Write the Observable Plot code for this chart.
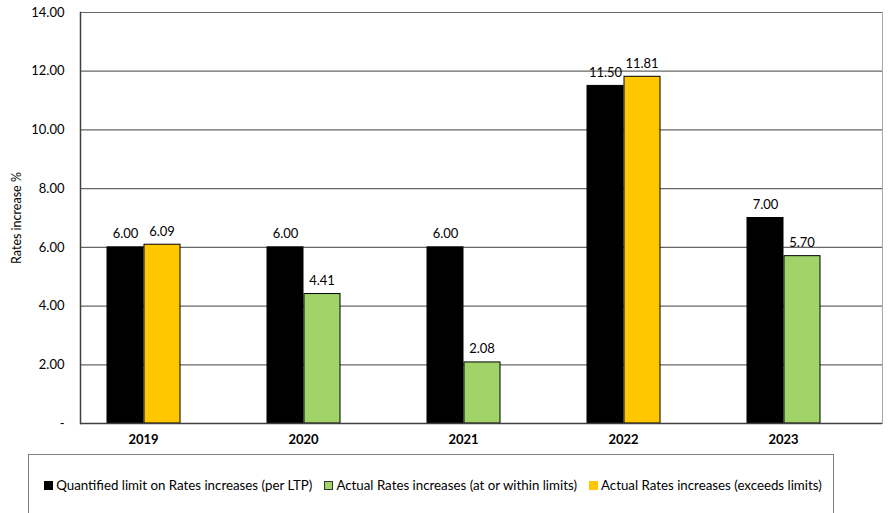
<!DOCTYPE html>
<html>
<head>
<meta charset="utf-8">
<script src="https://cdn.jsdelivr.net/npm/d3@7"></script>
<script src="https://cdn.jsdelivr.net/npm/@observablehq/plot@0.6"></script>
<style>
  body { margin: 0; background: #fff; font-family: Lato, "Noto Sans", sans-serif; }
  #chart { position: relative; width: 888px; height: 513px; overflow: hidden; }
  #legend {
    position: absolute; left: 28px; top: 454px; width: 806px; height: 80px;
    border: 1px solid #808080; box-sizing: border-box;
    display: flex; justify-content: center; align-items: flex-start; gap: 12px;
    padding-top: 22px; padding-left: 4px; font-size: 13.3px; color: #000;
  }
  .item { display: flex; align-items: center; gap: 3px; white-space: nowrap; }
  .sw { width: 9px; height: 9px; box-sizing: border-box; }
</style>
</head>
<body>
<div id="chart"></div>
<script>
// Rates increases by year: the LTP limit and the actual increase
const years = ["2019", "2020", "2021", "2022", "2023"];
const limitValues = [6.00, 6.00, 6.00, 11.50, 7.00];
const actualValues = [6.09, 4.41, 2.08, 11.81, 5.70];
const yTicks = [0, 2, 4, 6, 8, 10, 12, 14];

const seriesNames = [
  "Quantified limit on Rates increases (per LTP)",
  "Actual Rates increases (at or within limits)",
  "Actual Rates increases (exceeds limits)"
];
const seriesColors = ["#000000", "#a0d468", "#ffc700"];

const rows = years.map((year, i) => ({
  year,
  limit: limitValues[i],
  actual: actualValues[i],
  exceeds: actualValues[i] > limitValues[i]
}));

const font = "Lato, 'Noto Sans', sans-serif";

const plot = Plot.plot({
  width: 888,
  height: 450,
  marginTop: 12,
  marginBottom: 27,
  marginLeft: 80,
  marginRight: 6,
  style: { fontFamily: font, fontSize: "13px", color: "#000", background: "#fff" },
  x: { type: "band", domain: years, range: [62, 863], padding: 0, label: null },
  y: { domain: [0, 14], label: null },
  marks: [
    Plot.frame({ stroke: "#a6a6a6" }),
    Plot.ruleY(yTicks.filter(t => t > 0), { stroke: "#666", strokeWidth: 1.2 }),
    Plot.barY(rows, {
      x: "year", y: "limit", fill: seriesColors[0], stroke: "#000", strokeWidth: 1,
      insetLeft: 44, insetRight: 80
    }),
    Plot.barY(rows, {
      x: "year", y: "actual",
      fill: d => d.exceeds ? seriesColors[2] : seriesColors[1],
      stroke: "#000", strokeWidth: 1,
      insetLeft: 81, insetRight: 43
    }),
    Plot.text(rows, {
      x: "year", y: "limit", text: d => d.limit.toFixed(2),
      dx: -18, dy: -9, lineAnchor: "bottom", fontSize: 13, fill: "#000"
    }),
    Plot.text(rows, {
      x: "year", y: "actual", text: d => d.actual.toFixed(2),
      dx: 18.5, dy: -9, lineAnchor: "bottom", fontSize: 13, fill: "#000"
    }),
    Plot.ruleY([0], { stroke: "#404040", strokeWidth: 1.5 }),
    Plot.frame({ anchor: "left", stroke: "#404040", strokeWidth: 1.5 }),
    Plot.axisY({
      ticks: yTicks, tickSize: 0, tickPadding: 16,
      tickFormat: d => d === 0 ? "-" : d.toFixed(2),
      label: null, fontSize: 13
    }),
    Plot.axisX({
      tickSize: 0, tickPadding: 11, label: null, fontWeight: "bold", fontSize: 13
    }),
    Plot.text(["Rates increase %"], {
      frameAnchor: "left", textAnchor: "middle", rotate: -90, dx: -64,
      fontSize: 12.5, fill: "#000"
    })
  ]
});

const chart = document.getElementById("chart");
chart.appendChild(plot);

const legend = document.createElement("div");
legend.id = "legend";
seriesNames.forEach((name, i) => {
  const item = document.createElement("div");
  item.className = "item";
  const sw = document.createElement("span");
  sw.className = "sw";
  sw.style.background = seriesColors[i];
  if (i === 1) sw.style.border = "1px solid #333";
  const label = document.createElement("span");
  label.textContent = name;
  item.append(sw, label);
  legend.appendChild(item);
});
chart.appendChild(legend);
</script>
</body>
</html>
